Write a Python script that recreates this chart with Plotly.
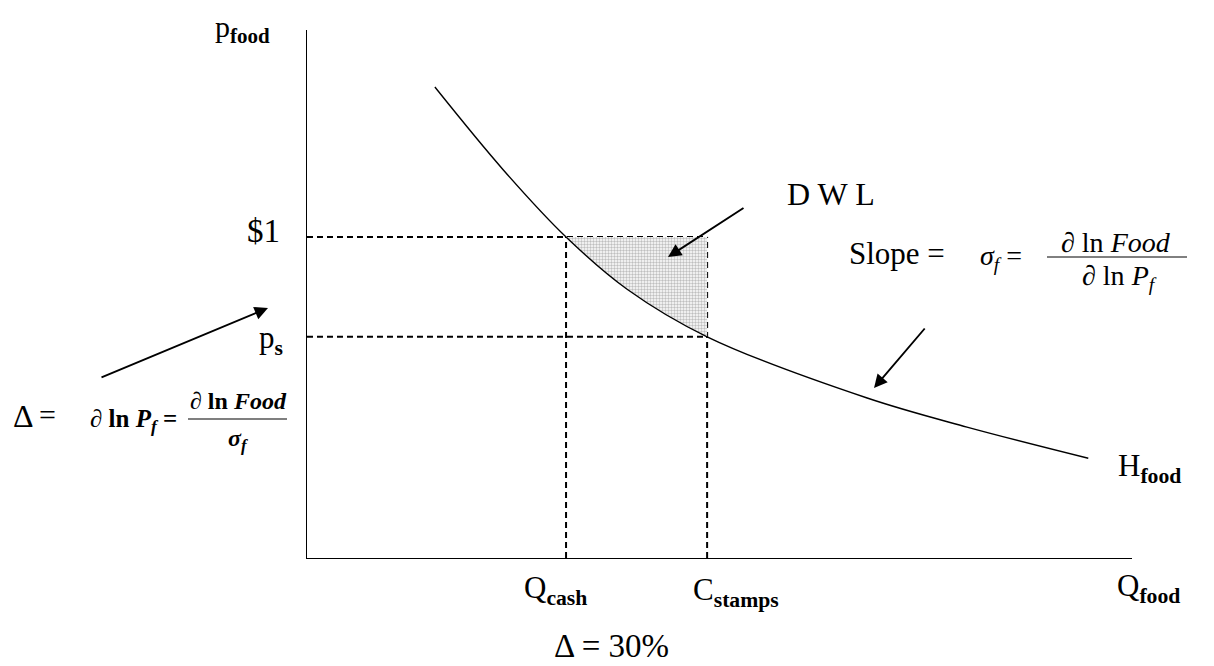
import plotly.graph_objects as go

# ---- data ----
quantity = [1.55, 2.38, 3.14, 3.88, 4.85, 6.79, 8.0, 9.47]
price = [8.92, 7.35, 6.08, 5.09, 4.19, 3.03, 2.48, 1.89]
q_cash = quantity[2]
c_stamps = quantity[4]
p_one = price[2]
p_s = price[4]
dwl_q = quantity[2:5]
dwl_p = price[2:5]

# ---- layout geometry (page pixel coords; page has an 8px body margin) ----
OFF = 8
W, H = 1214 - OFF, 666 - OFF
L, R, T, B = 307 - OFF, 82, 30 - OFF, 108
XR = [0, 10]
YR = [0, 10]
PW, PH = W - L - R, H - T - B


def px(x):
    return (x - OFF - L) / PW


def py(y):
    return (H - B - (y - OFF)) / PH


FONT = "Liberation Serif, DejaVu Serif, serif"
fig = go.Figure()

# dashed guide lines
dash = dict(color="black", width=2, dash="6px,4px")
fig.add_trace(go.Scatter(x=[0, c_stamps], y=[p_one, p_one], mode="lines", line=dash, hoverinfo="skip"))
fig.add_trace(go.Scatter(x=[0, c_stamps], y=[p_s, p_s], mode="lines", line=dash, hoverinfo="skip"))
fig.add_trace(go.Scatter(x=[q_cash, q_cash], y=[0, p_one], mode="lines", line=dash, hoverinfo="skip"))
fig.add_trace(go.Scatter(x=[c_stamps, c_stamps], y=[0, p_one], mode="lines", line=dash, hoverinfo="skip"))

# DWL shaded area
fig.add_trace(go.Scatter(x=[q_cash, c_stamps], y=[p_one, p_one], mode="lines",
                         line=dict(width=0), hoverinfo="skip"))
fig.add_trace(go.Scatter(x=dwl_q, y=dwl_p, mode="lines", line=dict(width=0, shape="spline"),
                         fill="tonexty", fillcolor="rgba(0,0,0,0)",
                         fillpattern=dict(shape=".", fgcolor="#808080", bgcolor="white",
                                          size=3, solidity=0.5),
                         hoverinfo="skip"))

# demand curve
fig.add_trace(go.Scatter(x=quantity, y=price, mode="lines",
                         line=dict(color="black", width=1.4, shape="spline", smoothing=1.0),
                         hoverinfo="skip"))

ann = []


def text(x, y, s, size=31, anchor="center", vanchor="middle"):
    ann.append(dict(x=px(x), y=py(y), xref="paper", yref="paper", text=s, showarrow=False,
                    xanchor=anchor, yanchor=vanchor,
                    font=dict(family=FONT, size=size, color="black")))


def arrow(tx, ty, hx, hy):
    ann.append(dict(x=px(hx), y=py(hy), xref="paper", yref="paper",
                    ax=tx - hx, ay=ty - hy, axref="pixel", ayref="pixel",
                    text="", showarrow=True, arrowhead=2,
                    arrowsize=1.4, arrowwidth=1.9, arrowcolor="black", standoff=0))


SUB = lambda s: "<sub><b>%s</b></sub>" % s

text(242, 8, "p" + SUB("food"), size=30, vanchor="top")
text(263, 231, "$1", size=33)
text(271, 340, "p" + SUB("s"))
text(555, 590, "Q" + SUB("cash"))
text(736, 592, "C" + SUB("stamps"))
text(611, 646, "Δ = 30%", size=33)
text(1148, 588, "Q" + SUB("food"))
text(1149, 468, "H" + SUB("food"))
text(831, 194, "D W L", size=32)

# right formula
text(897, 253, "Slope =", size=31)
text(1001, 258, "<i>σ<sub>f</sub></i> =", size=28)
text(1116, 242, "∂ ln <i>Food</i>", size=28)
text(1119, 277, "∂ ln <i>P<sub>f</sub></i>", size=28)

# left formula
text(23, 416, "Δ", size=32)
text(47, 414, "=", size=30)
text(133, 420, "<b>∂ ln <i>P<sub>f</sub></i> =</b>", size=25)
text(238, 401, "<b>∂ ln <i>Food</i></b>", size=24)
text(238, 440, "<b><i>σ<sub>f</sub></i></b>", size=24)

arrow(745, 207, 668, 257)
arrow(926, 327, 874, 388)
arrow(100, 378, 268, 308)

shapes = [
    dict(type="line", xref="paper", yref="paper", x0=px(1047), x1=px(1187), y0=py(257), y1=py(257),
         line=dict(color="black", width=1)),
    dict(type="line", xref="paper", yref="paper", x0=px(188), x1=px(287), y0=py(419), y1=py(419),
         line=dict(color="black", width=1.2)),
]

fig.update_layout(
    width=W, height=H,
    margin=dict(l=L, r=R, t=T, b=B, pad=0),
    paper_bgcolor="white", plot_bgcolor="white",
    showlegend=False,
    annotations=ann, shapes=shapes,
    xaxis=dict(range=XR, showline=True, linecolor="black", linewidth=1.3, showgrid=False,
               zeroline=False, showticklabels=False, ticks=""),
    yaxis=dict(range=YR, showline=True, linecolor="black", linewidth=1.3, showgrid=False,
               zeroline=False, showticklabels=False, ticks=""),
)

fig.write_html("out.html")
